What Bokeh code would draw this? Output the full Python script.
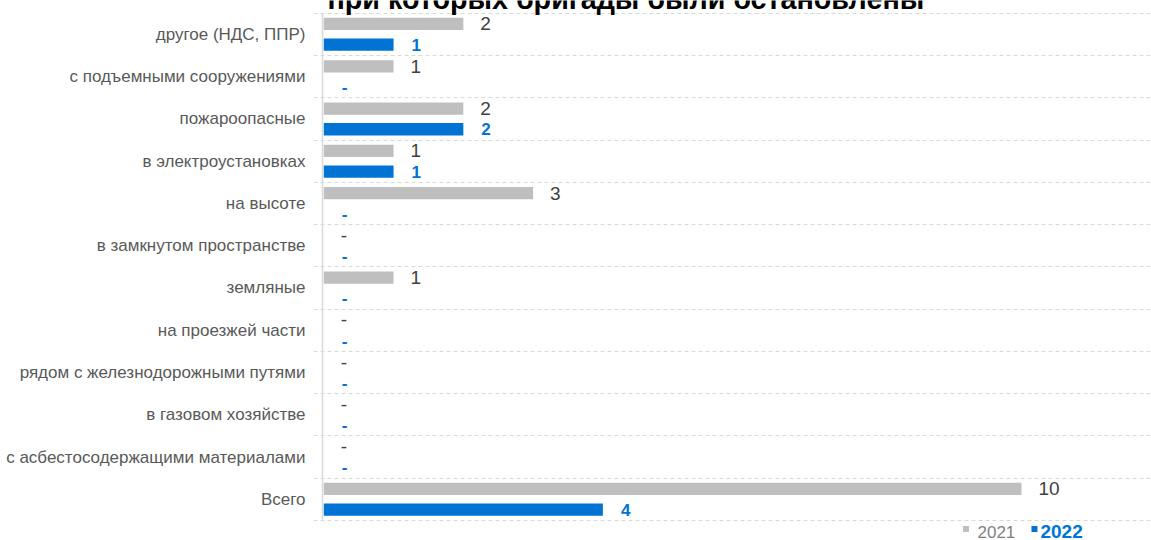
from bokeh.plotting import figure
from bokeh.models import Range1d, FixedTicker, ColumnDataSource, Label
from bokeh.core.properties import value
from bokeh.embed import file_html
from bokeh.resources import INLINE

categories = ["другое (НДС, ППР)", "с подъемными сооружениями", "пожароопасные",
              "в электроустановках", "на высоте", "в замкнутом пространстве",
              "земляные", "на проезжей части", "рядом с железнодорожными путями",
              "в газовом хозяйстве", "с асбестосодержащими материалами", "Всего"]
v2021 = [2, 1, 2, 1, 3, 0, 1, 0, 0, 0, 0, 10]
v2022 = [1, 0, 2, 1, 0, 0, 0, 0, 0, 0, 0, 4]
series_names = ["2021", "2022"]
title_text = "при которых бригады были остановлены"

GRAY = "#bfbfbf"
BLUE = "#0073D5"
SANS = "Liberation Sans"

n = len(categories)
yc = [n - 1 - i for i in range(n)]
off = 0.245
y21 = [y + off for y in yc]
y22 = [y - off for y in yc]
lab21 = [str(v) if v else "-" for v in v2021]
lab22 = [str(v) if v else "-" for v in v2022]

p = figure(width=1151, height=540, output_backend="svg", toolbar_location=None,
           x_range=Range1d(-0.1476, 11.849), y_range=Range1d(-0.9734, 11.8006),
           min_border_left=313, min_border_right=1, min_border_top=0, min_border_bottom=0)
p.outline_line_color = None
p.background_fill_color = "white"
p.xaxis.visible = False
p.xgrid.visible = False

p.yaxis.ticker = FixedTicker(ticks=yc)
p.yaxis.major_label_overrides = {y: c for y, c in zip(yc, categories)}
p.yaxis.axis_line_color = None
p.yaxis.major_tick_line_color = None
p.yaxis.minor_tick_line_color = None
p.yaxis.major_tick_out = 0
p.yaxis.major_label_standoff = 8
p.yaxis.major_label_text_font = SANS
p.yaxis.major_label_text_font_size = "17px"
p.yaxis.major_label_text_color = "#595959"

p.ygrid.ticker = FixedTicker(ticks=[y - 0.5 for y in range(n + 1)])
p.ygrid.grid_line_color = "#d9d9d9"
p.ygrid.grid_line_dash = "4 3"
p.ygrid.grid_line_width = 1

# axis line
p.segment(x0=[-0.0186], x1=[-0.0186], y0=[-0.5], y1=[n - 0.5], line_color="#d9d9d9", line_width=1.5)

s21 = ColumnDataSource(dict(y=y21, v=v2021, t=lab21))
s22 = ColumnDataSource(dict(y=y22, v=v2022, t=lab22))
p.hbar(y="y", left=0, right="v", height=0.29, source=s21, fill_color=GRAY, line_color=None)
p.hbar(y="y", left=0, right="v", height=0.29, source=s22, fill_color=BLUE, line_color=None)

p.text(x="v", y="y", text="t", source=s21, x_offset=17, text_align="left", text_baseline="middle",
       text_font=value(SANS), text_font_size="19px", text_color="#404040")
p.text(x="v", y="y", text="t", source=s22, x_offset=18, text_align="left", text_baseline="middle",
       text_font=value(SANS), text_font_size="17px", text_font_style="bold", text_color=BLUE)

# title (cut off at the top, as in the source)
p.add_layout(Label(x=0.053, y=11.8456, text=title_text, text_align="left", text_baseline="middle",
                   text_font=SANS, text_font_size="28.7px", text_font_style="bold", text_color="black"))

# legend
p.scatter(x=[9.205, 10.186], y=[-0.70, -0.70], marker="square", size=6,
          fill_color=[GRAY, BLUE], line_color=None)
p.text(x=[9.369], y=[-0.775], text=[series_names[0]], text_align="left", text_baseline="middle",
       text_font=value(SANS), text_font_size="17px", text_color="#7f7f7f")
p.text(x=[10.272], y=[-0.762], text=[series_names[1]], text_align="left", text_baseline="middle",
       text_font=value(SANS), text_font_size="19px", text_font_style="bold", text_color=BLUE)

open("out.html", "w").write(file_html(p, INLINE))
